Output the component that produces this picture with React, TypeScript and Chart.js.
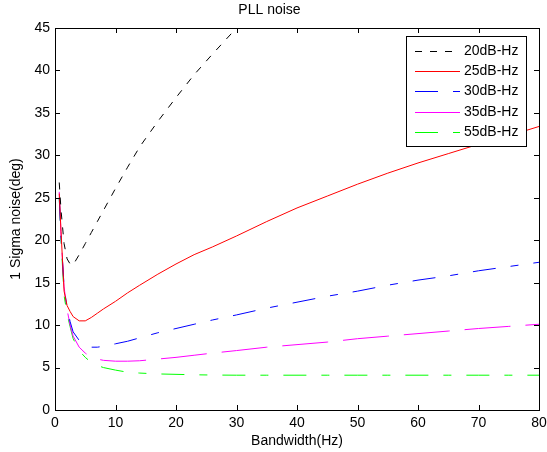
import React, { useEffect, useRef } from "react";
import { Chart, registerables } from "chart.js";

Chart.register(...registerables);

// ---- data ----
const bandwidthHz = [0.7, 1, 1.5, 2, 2.5, 3, 4, 5, 6, 7, 8, 10, 12, 14, 17, 20, 23, 26, 30, 35, 40, 45, 50, 55, 60, 65, 70, 75, 80];
const seriesLabels = ["20dB-Hz", "25dB-Hz", "30dB-Hz", "35dB-Hz", "55dB-Hz"];
const noise20 = [26.8, 23.5, 19.6, 17.8, 17.2, 17.1, 18.3, 19.6, 20.9, 22.2, 23.5, 26.1, 28.6, 31.0, 34.0, 36.8, 39.5, 41.9, 45.0, 48.5, null, null, null, null, null, null, null, null, null];
const noise25 = [25.5, 21, 14, 12.3, 11.6, 11, 10.5, 10.5, 10.9, 11.4, 11.9, 12.8, 13.8, 14.7, 16.0, 17.2, 18.3, 19.2, 20.5, 22.2, 23.8, 25.2, 26.6, 27.9, 29.1, 30.2, 31.3, 32.3, 33.4];
const noise30 = [25, 20.3, 14.5, 12, 10.4, 9.2, 8.2, 7.7, 7.4, 7.4, 7.5, 7.8, 8.1, 8.5, 9.1, 9.6, 10.1, 10.6, 11.2, 12.0, 12.7, 13.4, 14.0, 14.7, 15.3, 15.8, 16.4, 16.9, 17.4];
const noise35 = [25.7, 20.5, 14.5, 11.8, 10, 8.7, 7.4, 6.7, 6.2, 6.0, 5.85, 5.75, 5.75, 5.8, 6.0, 6.2, 6.45, 6.7, 7.0, 7.4, 7.7, 8.0, 8.4, 8.7, 9.0, 9.3, 9.6, 9.85, 10.1];
const noise55 = [25, 20, 13.5, 11.3, 9.8, 8.4, 7.0, 6.2, 5.6, 5.25, 5.0, 4.7, 4.45, 4.35, 4.25, 4.2, 4.15, 4.12, 4.1, 4.1, 4.1, 4.1, 4.1, 4.1, 4.1, 4.1, 4.1, 4.1, 4.1];
const xTickStep = 10;
const yTickStep = 5;

const FONT = "'Liberation Sans', Arial, Helvetica, sans-serif";

function toPoints(ys: (number | null)[]) {
  const pts: { x: number; y: number }[] = [];
  ys.forEach((y, i) => {
    if (y !== null) pts.push({ x: bandwidthHz[i], y });
  });
  return pts;
}

const frameAndTicks = {
  id: "frameAndTicks",
  afterDatasetsDraw(chart: any) {
    const { ctx, chartArea } = chart;
    const { left, right, top, bottom } = chartArea;
    const xs = chart.scales.x;
    const ys = chart.scales.y;
    const len = 5;
    ctx.save();
    ctx.strokeStyle = "#000";
    ctx.lineWidth = 1;
    ctx.setLineDash([]);
    ctx.beginPath();
    xs.ticks.forEach((t: any) => {
      const px = Math.round(xs.getPixelForValue(t.value)) + 0.5;
      ctx.moveTo(px, bottom);
      ctx.lineTo(px, bottom - len);
      ctx.moveTo(px, top);
      ctx.lineTo(px, top + len);
    });
    ys.ticks.forEach((t: any) => {
      const py = Math.round(ys.getPixelForValue(t.value)) + 0.5;
      ctx.moveTo(left, py);
      ctx.lineTo(left + len, py);
      ctx.moveTo(right, py);
      ctx.lineTo(right - len, py);
    });
    ctx.stroke();
    ctx.strokeRect(Math.round(left) + 0.5, Math.round(top) + 0.5, Math.round(right - left), Math.round(bottom - top));
    ctx.restore();
  },
};

const boxedLegend = {
  id: "boxedLegend",
  afterDraw(chart: any) {
    const { ctx } = chart;
    const bx = 406.5, by = 36.5, bw = 120, bh = 110;
    ctx.save();
    ctx.fillStyle = "#fff";
    ctx.fillRect(bx, by, bw, bh);
    ctx.strokeStyle = "#000";
    ctx.lineWidth = 1;
    ctx.setLineDash([]);
    ctx.strokeRect(bx, by, bw, bh);
    ctx.font = `14px ${FONT}`;
    ctx.textBaseline = "middle";
    ctx.textAlign = "left";
    chart.data.datasets.forEach((ds: any, i: number) => {
      const y = Math.round(50.7 + i * 20.3) + 0.5;
      ctx.strokeStyle = ds.borderColor;
      ctx.lineWidth = 1;
      ctx.setLineDash(ds.borderDash || []);
      ctx.beginPath();
      ctx.moveTo(415, y);
      ctx.lineTo(460, y);
      ctx.stroke();
      ctx.setLineDash([]);
      ctx.fillStyle = "#000";
      ctx.fillText(ds.label, 464, y);
    });
    ctx.restore();
  },
};

export default function App() {
  const ref = useRef<HTMLCanvasElement | null>(null);
  useEffect(() => {
    if (!ref.current) return;
    const mk = (label: string, data: (number | null)[], color: string, dash: number[]) => ({
      label,
      data: toPoints(data),
      borderColor: color,
      backgroundColor: color,
      borderWidth: 1,
      borderDash: dash,
      pointRadius: 0,
      tension: 0,
      fill: false,
    });
    const chart = new Chart(ref.current, {
      type: "line",
      data: {
        datasets: [
          mk(seriesLabels[0], noise20, "#000000", [7, 8]),
          mk(seriesLabels[1], noise25, "#ff0000", []),
          mk(seriesLabels[2], noise30, "#0000ff", [23, 15, 8, 15]),
          mk(seriesLabels[3], noise35, "#ff00ff", [46, 15]),
          mk(seriesLabels[4], noise55, "#00ff00", [23, 15, 8, 15]),
        ] as any,
      },
      options: {
        responsive: false,
        animation: false,
        devicePixelRatio: 1,
        layout: { padding: { left: 0, right: 8, top: 0, bottom: 0 } },
        plugins: {
          legend: { display: false },
          tooltip: { enabled: false },
          title: {
            display: true,
            text: "PLL noise",
            color: "#000",
            font: { family: FONT, size: 14, weight: "normal" as any },
            padding: { top: 2, bottom: 9.2 },
          },
        },
        scales: {
          x: {
            type: "linear",
            min: 0,
            max: 80,
            grid: { display: false, drawTicks: false },
            border: { display: false },
            ticks: {
              stepSize: xTickStep,
              color: "#000",
              font: { family: FONT, size: 14 },
              padding: 5,
              maxRotation: 0,
            },
            title: {
              display: true,
              text: "Bandwidth(Hz)",
              color: "#000",
              font: { family: FONT, size: 14 },
              padding: { top: 0, bottom: 2 },
            },
            afterFit: (s: any) => {
              s.height = 42;
              s.paddingLeft = 0;
              s.paddingRight = 0;
            },
          },
          y: {
            type: "linear",
            min: 0,
            max: 45,
            grid: { display: false, drawTicks: false },
            border: { display: false },
            ticks: {
              stepSize: yTickStep,
              color: "#000",
              font: { family: FONT, size: 14 },
              padding: 5,
            },
            title: {
              display: true,
              text: "1 Sigma noise(deg)",
              color: "#000",
              font: { family: FONT, size: 14 },
              padding: { top: 8, bottom: 0 },
            },
            afterFit: (s: any) => {
              s.width = 55;
              s.paddingTop = 0;
              s.paddingBottom = 0;
            },
          },
        },
      },
      plugins: [frameAndTicks, boxedLegend],
    });
    return () => chart.destroy();
  }, []);
  return (
    <div style={{ position: "absolute", left: 0, top: 0, width: 547, height: 452, background: "#fff" }}>
      <canvas ref={ref} width={547} height={452} />
    </div>
  );
}
